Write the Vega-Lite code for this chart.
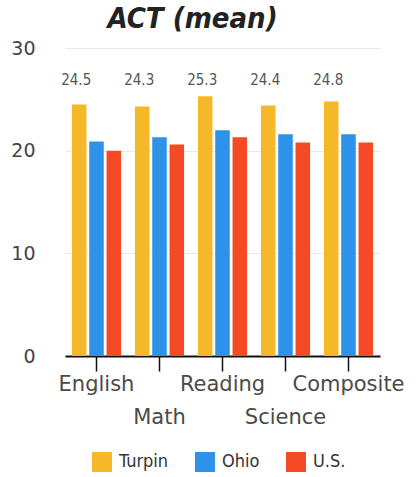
{
  "$schema": "https://vega.github.io/schema/vega-lite/v6.json",
  "width": 315,
  "height": 308,
  "autosize": {"type": "none"},
  "padding": {"left": 65, "top": 48, "right": 38, "bottom": 121},
  "background": "white",
  "config": {"view": {"stroke": null}},
  "title": {
    "text": "ACT (mean)",
    "font": "DejaVu Sans Condensed, Roboto, sans-serif",
    "fontSize": 29,
    "fontWeight": "bold",
    "fontStyle": "italic",
    "color": "#222222",
    "anchor": "middle",
    "dx": -30,
    "offset": 5
  },
  "data": {
    "values": [
      {"subject": "English", "group": "Turpin", "value": 24.5},
      {"subject": "English", "group": "Ohio", "value": 20.9},
      {"subject": "English", "group": "U.S.", "value": 20.0},
      {"subject": "Math", "group": "Turpin", "value": 24.3},
      {"subject": "Math", "group": "Ohio", "value": 21.3},
      {"subject": "Math", "group": "U.S.", "value": 20.6},
      {"subject": "Reading", "group": "Turpin", "value": 25.3},
      {"subject": "Reading", "group": "Ohio", "value": 22.0},
      {"subject": "Reading", "group": "U.S.", "value": 21.3},
      {"subject": "Science", "group": "Turpin", "value": 24.4},
      {"subject": "Science", "group": "Ohio", "value": 21.6},
      {"subject": "Science", "group": "U.S.", "value": 20.8},
      {"subject": "Composite", "group": "Turpin", "value": 24.8},
      {"subject": "Composite", "group": "Ohio", "value": 21.6},
      {"subject": "Composite", "group": "U.S.", "value": 20.8}
    ]
  },
  "encoding": {
    "x": {
      "field": "subject",
      "type": "nominal",
      "sort": ["English", "Math", "Reading", "Science", "Composite"],
      "scale": {"paddingInner": 0.22, "paddingOuter": 0.11},
      "axis": {
        "title": null,
        "labelAngle": 0,
        "labelFont": "DejaVu Sans",
        "labelFontSize": 21,
        "labelColor": "#4a4a4a",
        "labelOverlap": false,
        "labelPadding": 2,
        "labelLineHeight": 33,
        "labelBaseline": "top",
        "labelExpr": "datum.label == 'Math' || datum.label == 'Science' ? ['', datum.label] : datum.label",
        "domainColor": "#111111",
        "domainWidth": 2,
        "tickColor": "#111111",
        "tickWidth": 1.5,
        "tickSize": 15,
        "grid": false
      }
    },
    "xOffset": {
      "field": "group",
      "type": "nominal",
      "sort": ["Turpin", "Ohio", "U.S."],
      "scale": {"paddingInner": 0.16}
    }
  },
  "layer": [
    {
      "mark": {"type": "bar"},
      "encoding": {
        "y": {
          "field": "value",
          "type": "quantitative",
          "scale": {"domain": [0, 30]},
          "axis": {
            "title": null,
            "values": [0, 10, 20, 30],
            "domain": false,
            "ticks": false,
            "labelFont": "DejaVu Sans",
            "labelFontSize": 19,
            "labelColor": "#444444",
            "labelPadding": 30,
            "gridColor": "#e8e8e8",
            "gridWidth": 1
          }
        },
        "color": {
          "field": "group",
          "type": "nominal",
          "sort": ["Turpin", "Ohio", "U.S."],
          "scale": {"domain": ["Turpin", "Ohio", "U.S."], "range": ["#F5B829", "#2E93E8", "#F44A25"]},
          "legend": {
            "title": null,
            "orient": "none",
            "direction": "horizontal",
            "legendX": 27,
            "legendY": 404,
            "symbolType": "square",
            "symbolSize": 400,
            "symbolStrokeWidth": 0,
            "labelFont": "DejaVu Sans Condensed, Roboto, sans-serif",
            "labelFontSize": 18,
            "labelColor": "#333333",
            "columnPadding": 26,
            "labelOffset": 7
          }
        }
      }
    },
    {
      "transform": [{"filter": "datum.group == 'Turpin'"}],
      "mark": {"type": "text", "font": "DejaVu Sans Condensed, Roboto, sans-serif", "fontSize": 15, "color": "#555555", "baseline": "middle", "dx": -3},
      "encoding": {
        "y": {"datum": 26.9, "type": "quantitative"},
        "text": {"field": "value", "type": "quantitative", "format": ".1f"}
      }
    }
  ]
}
